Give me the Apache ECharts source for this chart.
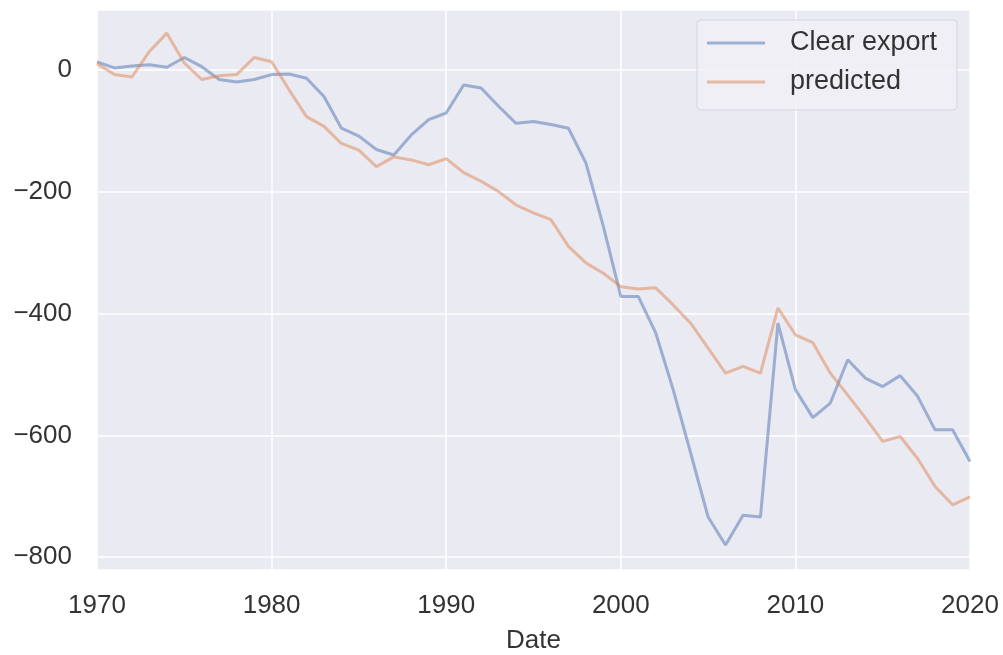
<!DOCTYPE html>
<html>
<head>
<meta charset="utf-8">
<script src="https://cdn.jsdelivr.net/npm/echarts@6/dist/echarts.min.js"></script>
<style>
  html, body { margin: 0; padding: 0; background: #fff; }
  #main { width: 1003px; height: 655px; }
</style>
</head>
<body>
<div id="main"></div>
<script>
const years = [];
for (let y = 1970; y <= 2020; y++) years.push(y);

const clearExport = [13, 3, 6, 8, 4, 20, 5, -16, -20, -16,
  -8, -7, -14, -44, -96, -109, -131, -140, -107, -82,
  -71, -25, -30, -60, -88, -85, -90, -96, -153, -257,
  -372, -372, -432, -525, -629, -734, -780, -731, -734, -416,
  -525, -571, -547, -476, -506, -520, -502, -536, -591, -591,
  -643];

const predicted = [10, -8, -12, 30, 60, 11, -16, -10, -8, 20,
  13, -33, -77, -93, -121, -132, -159, -143, -148, -156,
  -146, -169, -183, -200, -222, -235, -246, -290, -317, -334,
  -356, -360, -358, -386, -416, -457, -498, -487, -498, -391,
  -435, -448, -498, -534, -571, -610, -602, -638, -684, -714,
  -701];

const font = 'Liberation Sans, Arial, sans-serif';
const pair = (vals) => years.map((y, i) => [y, vals[i]]);

let myChart = echarts.init(document.getElementById('main'));
let option = {
  animation: false,
  grid: {
    left: 97, right: 33, top: 10, bottom: 85,
    outerBoundsMode: 'none',
    show: true, backgroundColor: '#eaeaf2', borderWidth: 0
  },
  legend: {
    left: 697, top: 20,
    orient: 'vertical',
    icon: 'rect',
    itemWidth: 58, itemHeight: 3, itemGap: 9,
    padding: [8, 20, 13, 10],
    backgroundColor: 'rgba(240,240,245,0.9)',
    borderColor: '#d4d4dc', borderWidth: 1, borderRadius: 4,
    textStyle: {
      fontFamily: font, fontSize: 27, color: '#333',
      lineHeight: 30, padding: [0, 0, 0, 20]
    },
    data: ['Clear export', 'predicted']
  },
  xAxis: {
    type: 'value', min: 1970, max: 2020, interval: 10,
    name: 'Date', nameLocation: 'middle', nameGap: 58,
    nameTextStyle: { fontFamily: font, fontSize: 26, color: '#333' },
    axisLine: { show: false }, axisTick: { show: false },
    axisLabel: {
      fontFamily: font, fontSize: 26, color: '#333', margin: 23,
      formatter: (v) => String(v)
    },
    splitLine: { lineStyle: { color: '#fff', width: 1.5 } }
  },
  yAxis: {
    type: 'value', min: -821, max: 98, splitNumber: 5,
    axisLine: { show: false }, axisTick: { show: false },
    axisLabel: {
      fontFamily: font, fontSize: 26, color: '#333', margin: 25,
      showMinLabel: false, showMaxLabel: false,
      formatter: (v) => (v % 200 === 0 ? String(v).replace('-', '\u2212') : '')
    },
    splitLine: { lineStyle: { color: '#fff', width: 1.5 } }
  },
  series: [
    {
      name: 'Clear export', type: 'line', symbol: 'none',
      data: pair(clearExport),
      lineStyle: { color: '#4c72b0', width: 3, opacity: 0.5 },
      itemStyle: { color: 'rgba(76,114,176,0.5)' }
    },
    {
      name: 'predicted', type: 'line', symbol: 'none',
      data: pair(predicted),
      lineStyle: { color: '#dd8452', width: 3, opacity: 0.5 },
      itemStyle: { color: 'rgba(221,132,82,0.5)' }
    }
  ]
};
myChart.setOption(option);
</script>
</body>
</html>
